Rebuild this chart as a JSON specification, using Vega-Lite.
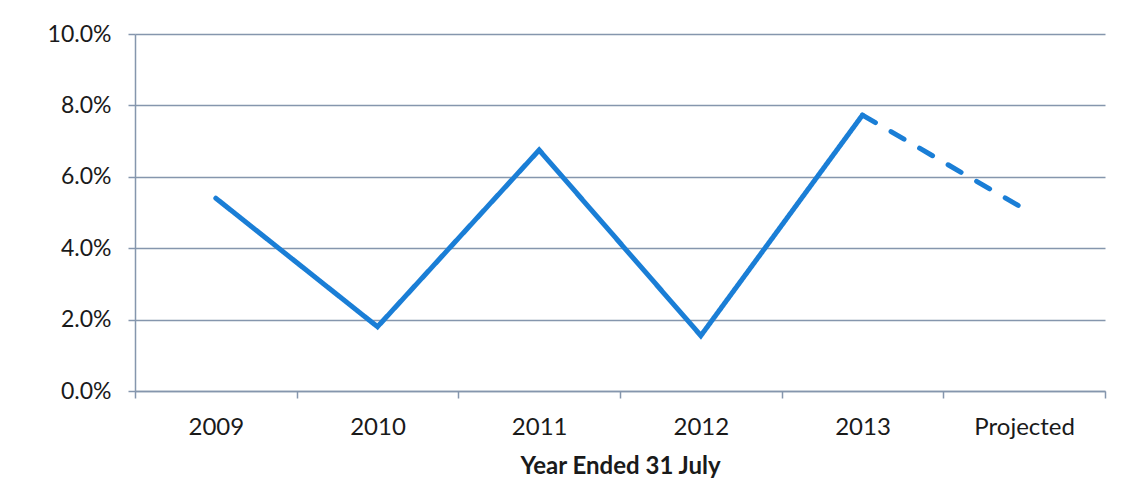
{
  "$schema": "https://vega.github.io/schema/vega-lite/v6.json",
  "width": 970,
  "height": 357,
  "autosize": {"type": "none"},
  "padding": {"left": 135, "top": 34, "right": 28, "bottom": 92},
  "background": "white",
  "config": {
    "view": {"stroke": null},
    "font": "Lato"
  },
  "data": {
    "values": [
      {"year": "2009", "growth": 0.054, "segment": "Actual"},
      {"year": "2010", "growth": 0.018, "segment": "Actual"},
      {"year": "2011", "growth": 0.0675, "segment": "Actual"},
      {"year": "2012", "growth": 0.0155, "segment": "Actual"},
      {"year": "2013", "growth": 0.0773, "segment": "Actual"},
      {"year": "2013", "growth": 0.0773, "segment": "Projected"},
      {"year": "Projected", "growth": 0.051, "segment": "Projected"}
    ]
  },
  "mark": {
    "type": "line",
    "color": "#1a7ed6",
    "strokeWidth": 5,
    "strokeCap": "round",
    "strokeJoin": "miter"
  },
  "encoding": {
    "x": {
      "field": "year",
      "type": "ordinal",
      "sort": ["2009", "2010", "2011", "2012", "2013", "Projected"],
      "scale": {"paddingInner": 0, "paddingOuter": 0},
      "axis": {
        "title": "Year Ended 31 July",
        "titleFontSize": 24,
        "titleFontWeight": "bold",
        "titleColor": "#1a1a1a",
        "titlePadding": 15,
        "labelAngle": 0,
        "labelFontSize": 24,
        "labelColor": "#1a1a1a",
        "labelPadding": 17,
        "tickBand": "extent",
        "tickSize": 7,
        "tickColor": "#8596ad",
        "tickWidth": 1.5,
        "domainColor": "#8596ad",
        "domainWidth": 1.5,
        "grid": false
      }
    },
    "y": {
      "field": "growth",
      "type": "quantitative",
      "scale": {"domain": [0, 0.1], "nice": false},
      "axis": {
        "title": null,
        "format": ".1%",
        "values": [0, 0.02, 0.04, 0.06, 0.08, 0.1],
        "labelFontSize": 23,
        "labelColor": "#1a1a1a",
        "labelPadding": 17,
        "tickSize": 7,
        "tickColor": "#8596ad",
        "tickWidth": 1.5,
        "domainColor": "#8596ad",
        "domainWidth": 1.5,
        "grid": true,
        "gridColor": "#8596ad",
        "gridWidth": 1.5,
        "gridOpacity": 1
      }
    },
    "strokeDash": {
      "field": "segment",
      "type": "nominal",
      "scale": {"domain": ["Actual", "Projected"], "range": [[1, 0], [15, 18]]},
      "legend": null
    }
  }
}
